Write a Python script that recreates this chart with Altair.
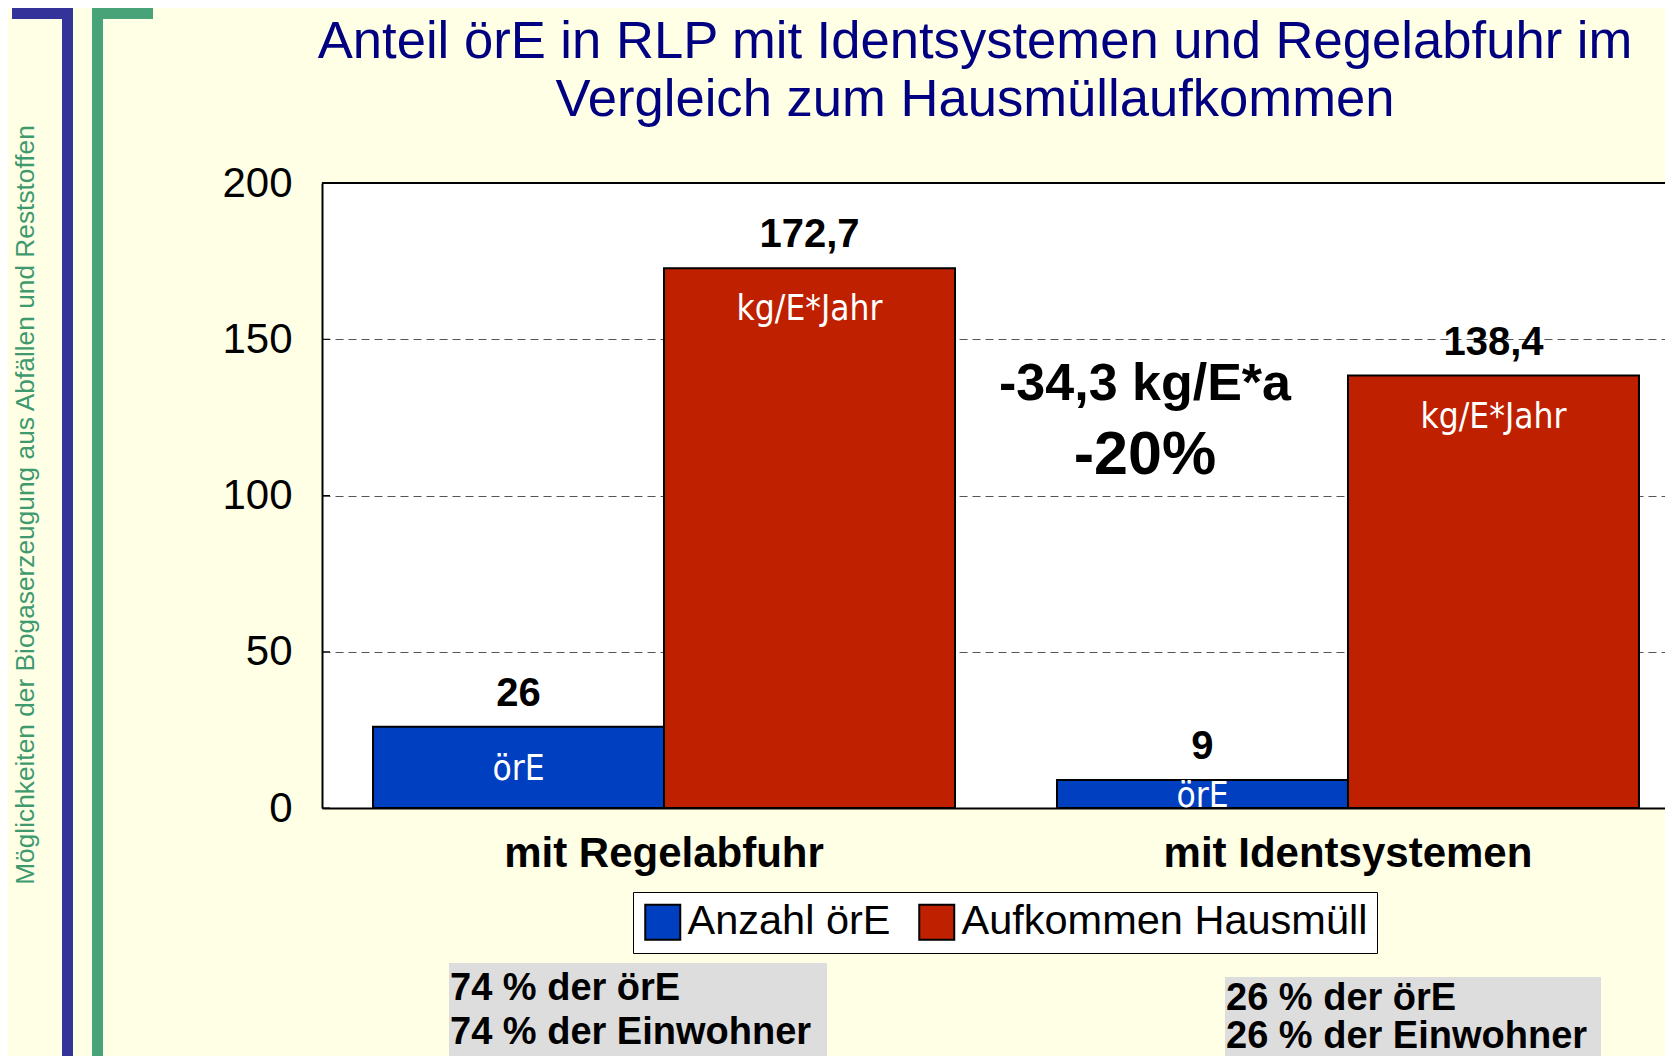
import altair as alt
import pandas as pd

# ---------------- data ----------------
categories = ["mit Regelabfuhr", "mit Identsystemen"]
series = ["Anzahl örE", "Aufkommen Hausmüll"]
anzahl_ore = [26, 9]
aufkommen_hausmuell = [172.7, 138.4]
inner_labels = ["örE", "kg/E*Jahr"]
y_ticks = [0, 50, 100, 150, 200]
title_lines = ["Anteil örE in RLP mit Identsystemen und Regelabfuhr im",
               "Vergleich zum Hausmüllaufkommen"]
sidebar_text = "Möglichkeiten der Biogaserzeugung aus Abfällen und Reststoffen"
diff_lines = ["-34,3 kg/E*a", "-20%"]
box_left = ["74 % der örE", "74 % der Einwohner"]
box_right = ["26 % der örE", "26 % der Einwohner"]

rows = []
for i, c in enumerate(categories):
    rows.append({"cat": c, "series": series[0], "value": anzahl_ore[i], "inner": inner_labels[0]})
    rows.append({"cat": c, "series": series[1], "value": aufkommen_hausmuell[i], "inner": inner_labels[1]})
df = pd.DataFrame(rows)
ticks_df = pd.DataFrame({"t": y_ticks})
one = pd.DataFrame({"k": [0]})

# ---------------- styling ----------------
W, H = 1343, 625
FONT = "Liberation Sans, Arial, sans-serif"
NARROW = "Liberation Sans Narrow, Arial Narrow, DejaVu Sans Condensed, sans-serif"
BLUE, RED = "#0040C0", "#BF2000"
BG = "#FFFFE6"

x_enc = alt.X(
    "cat:N", sort=categories,
    scale=alt.Scale(range=[0, 1368], paddingInner=0.1491, paddingOuter=0.0746),
    axis=alt.Axis(title=None, labelFont=FONT, labelFontSize=42, labelFontWeight="bold",
                  labelColor="black", labelPadding=25, ticks=False, domainColor="black",
                  domainWidth=2, labelAngle=0, labelLimit=1000),
)
xo_enc = alt.XOffset("series:N", sort=series, scale=alt.Scale(paddingInner=0, paddingOuter=0))
y_axis = alt.Axis(title=None, values=y_ticks, labelFont=FONT, labelFontSize=42,
                  labelColor="black", labelPadding=30, ticks=False, domainColor="black",
                  domainWidth=2, grid=True, gridColor="#555555", gridDash=[8, 5], gridWidth=1)
y_scale = alt.Scale(domain=[0, 200], nice=False)

base = alt.Chart(df)

bars = base.mark_bar(stroke="black", strokeWidth=2).encode(
    x=x_enc, xOffset=xo_enc,
    y=alt.Y("value:Q", scale=y_scale, axis=y_axis),
    color=alt.Color(
        "series:N", sort=series,
        scale=alt.Scale(domain=series, range=[BLUE, RED]),
        legend=alt.Legend(title=None, orient="none", legendX=311, legendY=709,
                          direction="horizontal", fillColor="white", strokeColor="black",
                          padding=9, symbolType="square", symbolSize=1225,
                          symbolStrokeColor="black", symbolStrokeWidth=2,
                          labelFont=FONT, labelFontSize=41.5, labelColor="black",
                          labelOffset=4, columnPadding=24, labelLimit=1000),
    ),
)

value_labels = base.transform_calculate(
    lbl="replace(toString(datum.value), '.', ',')"
).mark_text(font=FONT, fontSize=40, fontWeight="bold", color="black",
            baseline="alphabetic", dy=-21).encode(
    x=x_enc, xOffset=xo_enc, y=alt.Y("value:Q", scale=y_scale), text="lbl:N")

inner_top = base.transform_filter(alt.datum.series == series[1]).mark_text(
    font=NARROW, fontSize=35, color="white", baseline="alphabetic", dy=52).encode(
    x=x_enc, xOffset=xo_enc, y=alt.Y("value:Q", scale=y_scale), text="inner:N")

inner_mid = base.transform_filter(alt.datum.series == series[0]).transform_calculate(
    mid="datum.value / 2").mark_text(
    font=NARROW, fontSize=35, color="white", baseline="middle", dy=2).encode(
    x=x_enc, xOffset=xo_enc, y=alt.Y("mid:Q", scale=y_scale), text="inner:N")

inner_ticks = alt.Chart(ticks_df).mark_rule(color="black", strokeWidth=1).encode(
    y=alt.Y("t:Q", scale=y_scale), x=alt.value(0), x2=alt.value(8))

top_frame = alt.Chart(one).mark_rule(color="black", strokeWidth=2).encode(
    x=alt.value(0), x2=alt.value(W + 20), y=alt.value(0))

# decorative side bars (view coordinates; view origin at page (322,183))
def rect(x1, x2, y1, y2, color):
    return alt.Chart(one).mark_rect(color=color).encode(
        x=alt.value(x1), x2=alt.value(x2), y=alt.value(y1), y2=alt.value(y2))

deco = [
    rect(-310, -249, -176, -164, "#333399"),
    rect(-260, -249, -176, 890, "#333399"),
    rect(-230, -169, -176, -164, "#48A478"),
    rect(-230, -219, -176, 890, "#48A478"),
]

def txt(s, x, y, size, color="black", weight="normal", align="center",
        baseline="alphabetic", font=FONT, angle=0):
    kw = dict(font=font, fontSize=size, color=color, fontWeight=weight,
              align=align, baseline=baseline)
    if angle:
        kw["angle"] = angle
    return alt.Chart(pd.DataFrame({"s": [s]})).mark_text(**kw).encode(
        x=alt.value(x), y=alt.value(y), text="s:N")

sidebar = txt(sidebar_text, -296, 322, 26.3, color="#3E9A6E", baseline="middle", angle=270)

titles = [
    txt(title_lines[0], 653, -125, 52.6, color="#000080"),
    txt(title_lines[1], 653, -67, 52.6, color="#000080"),
]

diffs = [
    txt(diff_lines[0], 823, 217, 52, weight="bold"),
    txt(diff_lines[1], 823, 291, 61, weight="bold"),
]

boxes = [
    rect(127, 505, 780, 890, "#DDDDDD"),
    rect(903, 1279, 794, 890, "#DDDDDD"),
    txt(box_left[0], 128, 817, 38, weight="bold", align="left"),
    txt(box_left[1], 128, 861, 38, weight="bold", align="left"),
    txt(box_right[0], 904, 827, 38, weight="bold", align="left"),
    txt(box_right[1], 904, 865, 38, weight="bold", align="left"),
]

chart = alt.layer(
    bars, value_labels, inner_top, inner_mid, inner_ticks, top_frame,
    *deco, sidebar, *titles, *diffs, *boxes,
).properties(
    width=W, height=H,
    padding={"left": 314, "top": 175, "right": 0, "bottom": 248},
    autosize=alt.AutoSizeParams(type="none"),
    background=BG,
).configure_view(fill="white", strokeWidth=0)

chart.save("out.html", embed_options={"renderer": "svg", "actions": False})
